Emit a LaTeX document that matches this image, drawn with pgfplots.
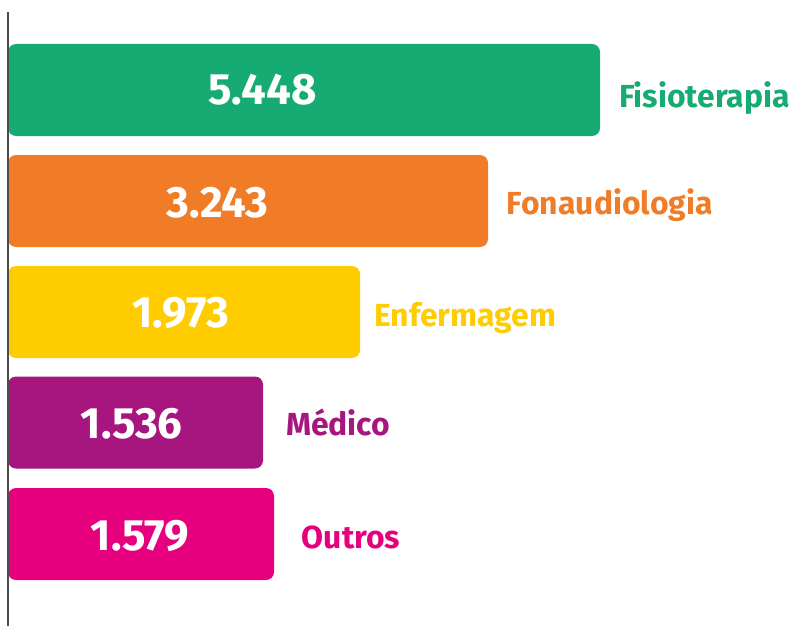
\documentclass[border=0pt]{standalone}
\usepackage{pgfplots}
\pgfplotsset{compat=1.18}
\usepackage{fontspec}
\setmainfont{Fira Sans}

\definecolor{cfisio}{RGB}{23,171,116}
\definecolor{cfono}{RGB}{240,124,40}
\definecolor{cenf}{RGB}{255,204,0}
\definecolor{cmed}{RGB}{166,22,126}
\definecolor{cout}{RGB}{230,0,126}

\begin{document}
\begin{tikzpicture}
\begin{axis}[scale only axis, width=792bp, height=626bp,
 xmin=-8, xmax=784, ymin=0, ymax=626, y dir=reverse,
 axis lines=none, clip=false,
 bar width=92, bar shift=0pt,
 lab/.style={draw=none, mark=none, nodes near coords, point meta=explicit symbolic,
   nodes near coords style={anchor=base west, inner sep=0pt, font=\fontsize{32}{36}\selectfont\bfseries, text=#1}},
 bars/.style={xbar, fill=#1, draw=none, rounded corners=8bp}]
% keep the page exactly the size of the axis
\path (rel axis cs:0,0) rectangle (rel axis cs:1,1);
% bar lengths in chart units (px from the axis line)
\addplot[bars=cfisio] coordinates {(592,90)};
\addplot[bars=cfono] coordinates {(480,201)};
\addplot[bars=cenf] coordinates {(352,312)};
\addplot[bars=cmed] coordinates {(255,422.5)};
\addplot[bars=cout] coordinates {(266,534)};
% values inside the bars
\addplot[draw=none, mark=none, nodes near coords, point meta=explicit symbolic,
 nodes near coords style={anchor=base, inner sep=0pt, text=white, font=\fontsize{44}{48}\selectfont\bfseries}]
 coordinates {(254.5,104)[5.448] (209.5,217.5)[3.243] (173,327.5)[1.973] (123.7,438)[1.536] (132,550)[1.579]};
% category labels
\addplot[lab=cfisio] coordinates {(611,107)[Fisioterapia]};
\addplot[lab=cfono] coordinates {(498.7,214)[Fonaudiologia]};
\addplot[lab=cenf] coordinates {(366,326.3)[Enfermagem]};
\addplot[lab=cmed] coordinates {(278,435)[Médico]};
\addplot[lab=cout] coordinates {(293.7,548)[Outros]};
% axis line
\addplot[draw=black!70, line width=1.5bp] coordinates {(0,12) (0,626)};
\end{axis}
\end{tikzpicture}
\end{document}
